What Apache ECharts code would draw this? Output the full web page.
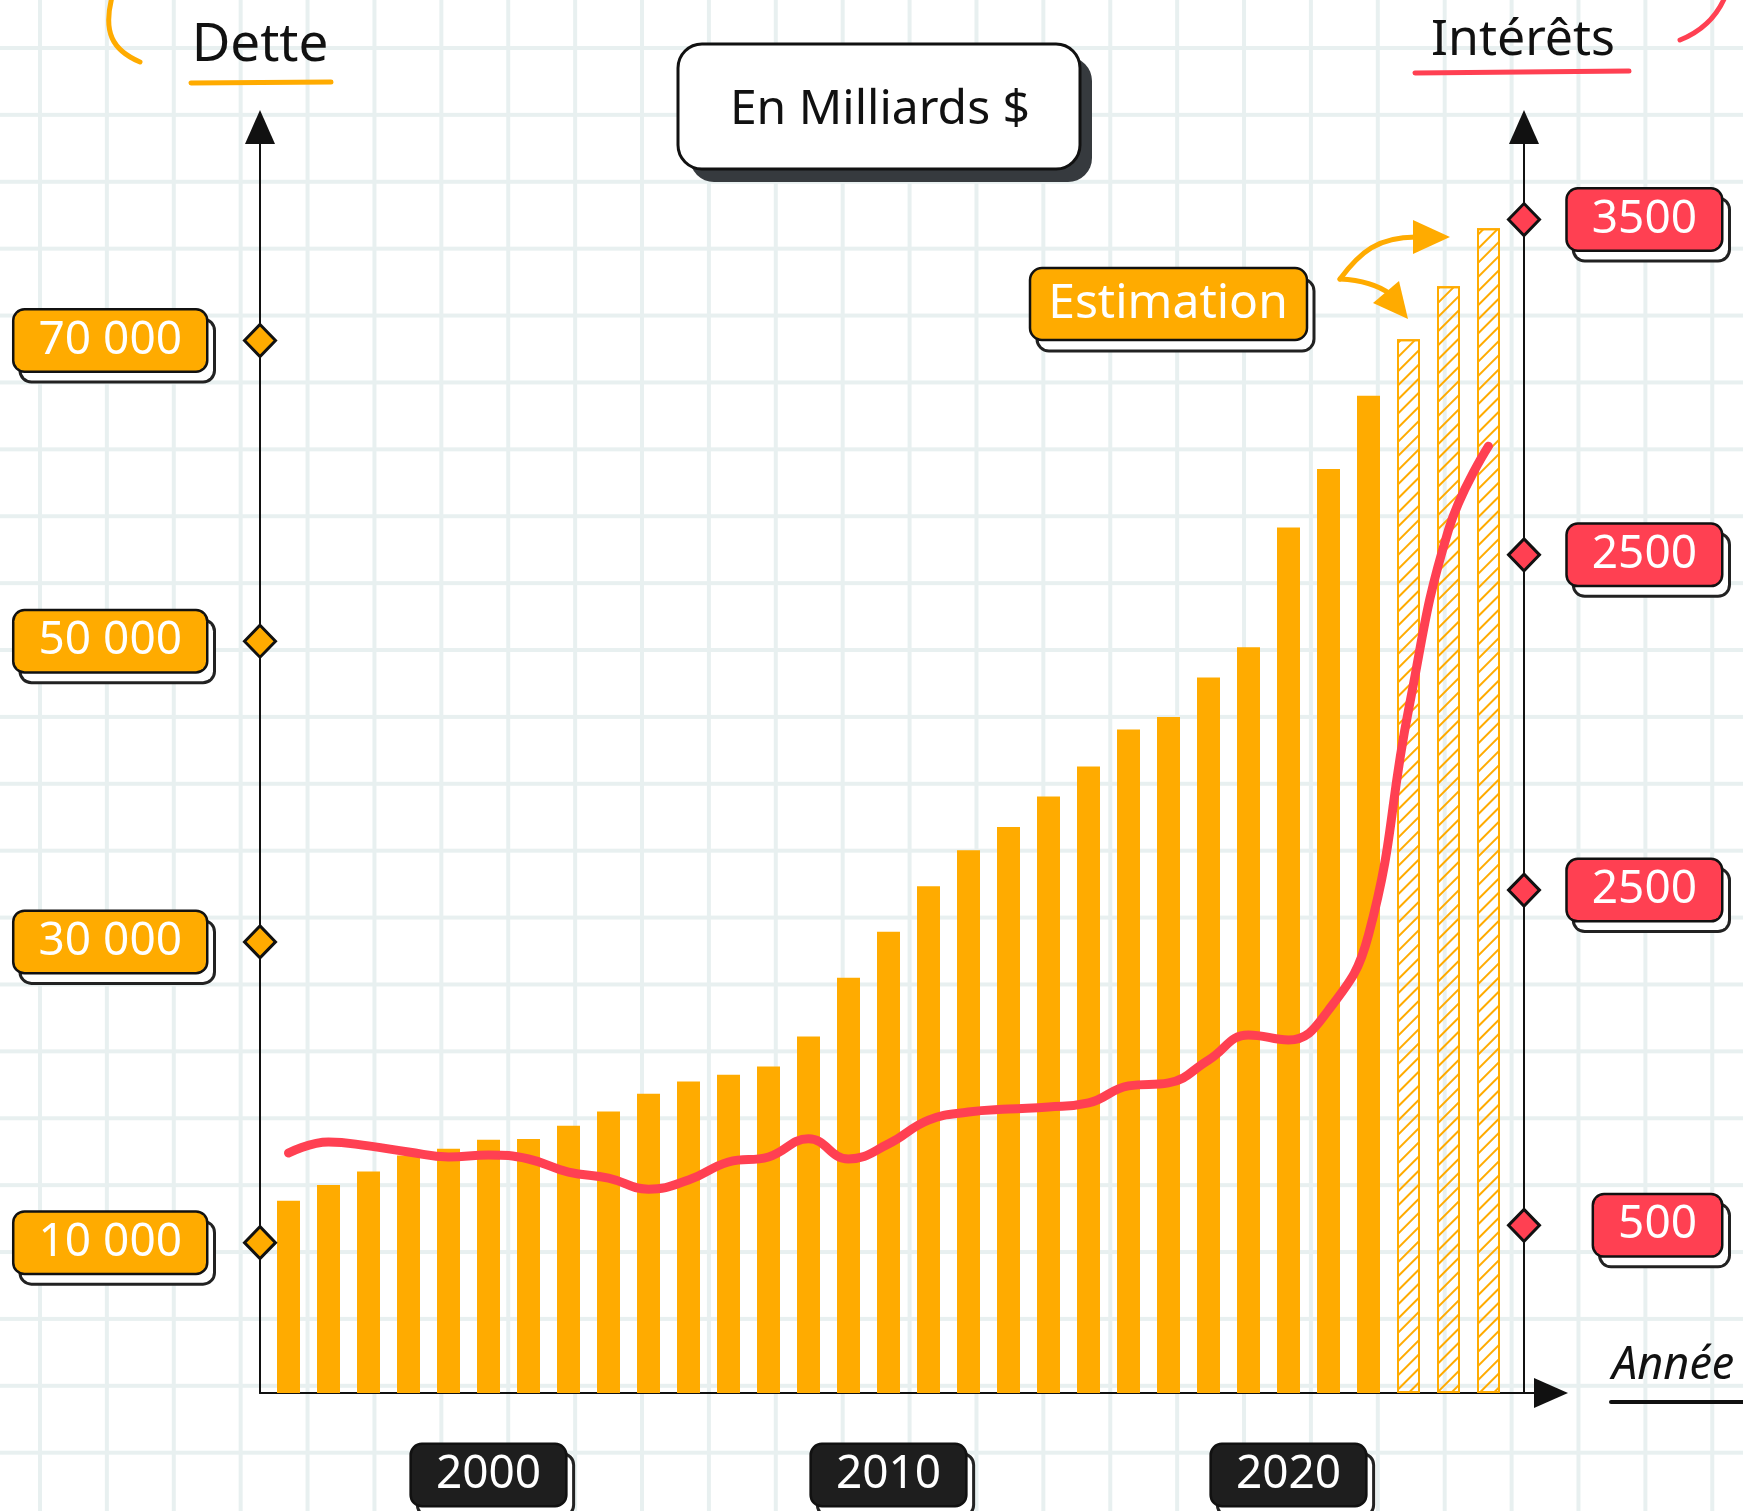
<!DOCTYPE html>
<html>
<head>
<meta charset="utf-8">
<title>Dette et intérêts</title>
<script src="https://cdn.jsdelivr.net/npm/echarts@6/dist/echarts.min.js"></script>
<style>
    html, body { margin: 0; padding: 0; background: #fff; }
    #chart {
        width: 1743px;
        height: 1511px;
        background-color: #fff;
        background-image:
            linear-gradient(to right, #e8f0f0 4px, transparent 4px),
            linear-gradient(to bottom, #e8f0f0 4px, transparent 4px);
        background-size: 66.9px 66.9px;
        background-position: 38px 46px;
    }
</style>
</head>
<body>
<div id="chart"></div>
<script>
    // donnees (milliards $)
    var annees = [1995, 1996, 1997, 1998, 1999, 2000, 2001, 2002, 2003, 2004, 2005, 2006, 2007, 2008, 2009, 2010,
        2011, 2012, 2013, 2014, 2015, 2016, 2017, 2018, 2019, 2020, 2021, 2022, 2023, 2024, 2025];
    var dette = [12780, 13840, 14730, 15800, 16240, 16840, 16900, 17770, 18720, 19900, 20720, 21160, 21720, 23710, 27620, 30680,
        33700, 36090, 37650, 39670, 41660, 44130, 44960, 47590, 49600, 57570, 61460, 66320, 70080, 73610, 77470];
    var interets = [716, 749, 737, 719, 704, 710, 698, 659, 641, 608, 635, 689, 704, 758, 698, 743,
        814, 838, 847, 853, 865, 916, 925, 993, 1068, 1053, 1142, 1366, 2037, 2574, 2824];
    var anneesEstimation = [2023, 2024, 2025];

    var graduationsDette = [10000, 30000, 50000, 70000];
    var graduationsInterets = [500, 1500, 2500, 3500];
    var etiquettesInterets = ['500', '2500', '2500', '3500'];
    var graduationsAnnees = [2000, 2010, 2020];

    var orange = '#FFAB00', rouge = '#FF4052', noir = '#1e1e1e';
    var police = '"Noto Sans", sans-serif';

    var grilleHaut = 127, grilleBas = 118, grilleGauche = 260, grilleDroite = 192;
    var detteMax = 84200, interetsMax = 3776;
    var xMin = 1994.2875, xMax = 2026.5625;
    var hauteur = 1511 - grilleHaut - grilleBas;
    var pxParAn = (1743 - grilleGauche - grilleDroite) / (xMax - xMin);
    var decalAxeDroit = -27;
    var xAxeDroit = xMax + decalAxeDroit / pxParAn;
    // decalage des "ombres" des etiquettes
    var ombreX = 7, ombreY = 10;
    var decalDette = ombreY * detteMax / hauteur;
    var decalInterets = ombreY * interetsMax / hauteur;

    function formatDette(v) {
        return String(v).replace(/\B(?=(\d{3})+(?!\d))/g, ' ');
    }
    function etiquetteInterets(v) {
        var best = 0;
        graduationsInterets.forEach(function (g, i) {
            if (Math.abs(g - v) < Math.abs(graduationsInterets[best] - v)) best = i;
        });
        return etiquettesInterets[best];
    }
    function boite(fond, couleurTexte, extra) {
        var s = {
            fontFamily: police, fontSize: 46, color: couleurTexte,
            backgroundColor: fond, borderColor: '#111', borderWidth: 2.5, borderRadius: 10,
            padding: [7, 24]
        };
        return Object.assign(s, extra);
    }
    function ombre(extra) {
        return boite('#fff', 'rgba(0,0,0,0)', Object.assign({ borderColor: '#222', borderWidth: 3 }, extra));
    }
    var axeLigne = {
        show: true, onZero: false,
        symbol: ['none', 'triangle'], symbolSize: [30, 34],
        lineStyle: { color: '#111', width: 2 }
    };
    var rien = { show: false };

    var myChart = echarts.init(document.getElementById('chart'));
    var option = {
        animation: false,
        grid: {
            left: grilleGauche, right: grilleDroite, top: grilleHaut, bottom: grilleBas,
            containLabel: false, outerBoundsMode: 'none'
        },
        xAxis: [
            {
                type: 'value', position: 'bottom', min: xMin, max: xMax, z: 1,
                axisLine: axeLigne, axisTick: rien, splitLine: rien,
                axisLabel: boite(noir, '#fff', {
                    customValues: graduationsAnnees, margin: 52,
                    formatter: function (v) { return String(Math.round(v)); }
                })
            },
            {
                type: 'value', position: 'bottom', min: xMin, max: xMax, z: 0,
                axisLine: { show: false, onZero: false }, axisTick: rien, splitLine: rien,
                axisLabel: ombre({
                    customValues: graduationsAnnees.map(function (a) { return a + ombreX / pxParAn; }),
                    margin: 52 + ombreY,
                    formatter: function (v) { return String(Math.round(v)); }
                })
            }
        ],
        yAxis: [
            {
                type: 'value', position: 'left', min: 0, max: detteMax, z: 1,
                axisLine: axeLigne, axisTick: rien, splitLine: rien,
                axisLabel: boite(orange, '#fff', {
                    customValues: graduationsDette, margin: 54, formatter: formatDette
                })
            },
            {
                type: 'value', position: 'right', offset: decalAxeDroit, min: 0, max: interetsMax, z: 1,
                axisLine: axeLigne, axisTick: rien, splitLine: rien,
                axisLabel: boite(rouge, '#fff', {
                    customValues: graduationsInterets, margin: 197, align: 'right', formatter: etiquetteInterets
                })
            },
            {
                type: 'value', position: 'left', min: 0, max: detteMax, z: 0,
                axisLine: { show: false, onZero: false }, axisTick: rien, splitLine: rien,
                axisLabel: ombre({
                    customValues: graduationsDette.map(function (v) { return v - decalDette; }),
                    margin: 54 - ombreX,
                    formatter: function (v) { return formatDette(Math.round((v + decalDette) / 1000) * 1000); }
                })
            },
            {
                type: 'value', position: 'right', offset: decalAxeDroit, min: 0, max: interetsMax, z: 0,
                axisLine: { show: false, onZero: false }, axisTick: rien, splitLine: rien,
                axisLabel: ombre({
                    customValues: graduationsInterets.map(function (v) { return v - decalInterets; }),
                    margin: 197 + ombreX, align: 'right', formatter: etiquetteInterets
                })
            }
        ],
        series: [
            {
                name: 'Dette',
                type: 'bar',
                xAxisIndex: 0, yAxisIndex: 0,
                barWidth: 23,
                itemStyle: { color: orange },
                data: annees.map(function (a, i) {
                    if (anneesEstimation.indexOf(a) < 0) return [a, dette[i]];
                    return {
                        value: [a, dette[i]],
                        itemStyle: {
                            color: 'rgba(255,255,255,0)',
                            borderColor: orange, borderWidth: 2,
                            decal: {
                                symbol: 'rect', symbolSize: 1, color: orange,
                                dashArrayX: [1, 0], dashArrayY: [1.5, 8],
                                rotation: -Math.PI / 4
                            }
                        }
                    };
                })
            },
            {
                name: 'Intérêts',
                type: 'line',
                xAxisIndex: 0, yAxisIndex: 1,
                smooth: 0.45,
                symbol: 'none',
                z: 3,
                lineStyle: { color: rouge, width: 9, cap: 'round' },
                data: annees.map(function (a, i) { return [a, interets[i]]; })
            },
            {
                type: 'scatter',
                xAxisIndex: 0, yAxisIndex: 0,
                symbol: 'diamond', symbolSize: [31, 32],
                clip: false, silent: true, z: 5,
                itemStyle: { color: orange, borderColor: '#111', borderWidth: 3, opacity: 1 },
                data: graduationsDette.map(function (v) { return [xMin, v]; })
            },
            {
                type: 'scatter',
                xAxisIndex: 0, yAxisIndex: 1,
                symbol: 'diamond', symbolSize: [31, 32],
                clip: false, silent: true, z: 5,
                itemStyle: { color: rouge, borderColor: '#111', borderWidth: 3, opacity: 1 },
                data: graduationsInterets.map(function (v) { return [xAxeDroit, v]; })
            }
        ],
        graphic: [
            // En Milliards $
            { type: 'rect', z: 10, shape: { x: 690, y: 57, width: 402, height: 125, r: 24 }, style: { fill: '#363a3e' } },
            { type: 'rect', z: 11, shape: { x: 678, y: 44, width: 402, height: 125, r: 24 }, style: { fill: '#fff', stroke: '#111', lineWidth: 3 } },
            { type: 'text', z: 12, style: { text: 'En Milliards $', x: 880, y: 110, align: 'center', verticalAlign: 'middle', font: '48px ' + police, fill: '#111' } },
            // Dette
            { type: 'text', z: 10, style: { text: 'Dette', x: 260, y: 46, align: 'center', verticalAlign: 'middle', font: '53px ' + police, fill: '#111' } },
            { type: 'line', z: 10, shape: { x1: 191, y1: 83, x2: 331, y2: 82 }, style: { stroke: orange, lineWidth: 5, lineCap: 'round' } },
            { type: 'bezierCurve', z: 10, shape: { x1: 112, y1: -3, cpx1: 103, cpy1: 32, cpx2: 112, cpy2: 50, x2: 140, y2: 62 }, style: { stroke: orange, lineWidth: 5, lineCap: 'round', fill: 'none' } },
            // Intérêts
            { type: 'text', z: 10, style: { text: 'Intérêts', x: 1523, y: 41, align: 'center', verticalAlign: 'middle', font: '50px ' + police, fill: '#111' } },
            { type: 'line', z: 10, shape: { x1: 1415, y1: 73, x2: 1629, y2: 71 }, style: { stroke: rouge, lineWidth: 5, lineCap: 'round' } },
            { type: 'bezierCurve', z: 10, shape: { x1: 1680, y1: 40, cpx1: 1700, cpy1: 32, cpx2: 1716, cpy2: 18, x2: 1725, y2: -3 }, style: { stroke: rouge, lineWidth: 5, lineCap: 'round', fill: 'none' } },
            // Année
            { type: 'text', z: 10, style: { text: 'Année', x: 1612, y: 1366, align: 'left', verticalAlign: 'middle', font: 'italic 45px ' + police, fill: '#111' } },
            { type: 'line', z: 10, shape: { x1: 1611, y1: 1402, x2: 1745, y2: 1402 }, style: { stroke: '#111', lineWidth: 4, lineCap: 'round' } },
            // Estimation
            { type: 'rect', z: 10, shape: { x: 1037, y: 279, width: 277, height: 72, r: 12 }, style: { fill: '#fff', stroke: '#222', lineWidth: 3 } },
            { type: 'rect', z: 10, shape: { x: 1030, y: 268, width: 277, height: 72, r: 12 }, style: { fill: orange, stroke: '#111', lineWidth: 2.5 } },
            { type: 'text', z: 11, style: { text: 'Estimation', x: 1168, y: 304, align: 'center', verticalAlign: 'middle', font: '48px ' + police, fill: '#fff' } },
            // fleches
            { type: 'bezierCurve', z: 10, shape: { x1: 1340, y1: 279, cpx1: 1360, cpy1: 252, cpx2: 1378, cpy2: 237, x2: 1416, y2: 237 }, style: { stroke: orange, lineWidth: 5, lineCap: 'round', fill: 'none' } },
            { type: 'polygon', z: 10, shape: { points: [[1413, 220], [1450, 237], [1413, 254]] }, style: { fill: orange } },
            { type: 'bezierCurve', z: 10, shape: { x1: 1340, y1: 279, cpx1: 1360, cpy1: 280, cpx2: 1378, cpy2: 285, x2: 1390, y2: 294 }, style: { stroke: orange, lineWidth: 5, lineCap: 'round', fill: 'none' } },
            { type: 'polygon', z: 10, shape: { points: [[1373, 303], [1399, 281], [1408, 319]] }, style: { fill: orange } }
        ]
    };
    myChart.setOption(option, true);
</script>
</body>
</html>
